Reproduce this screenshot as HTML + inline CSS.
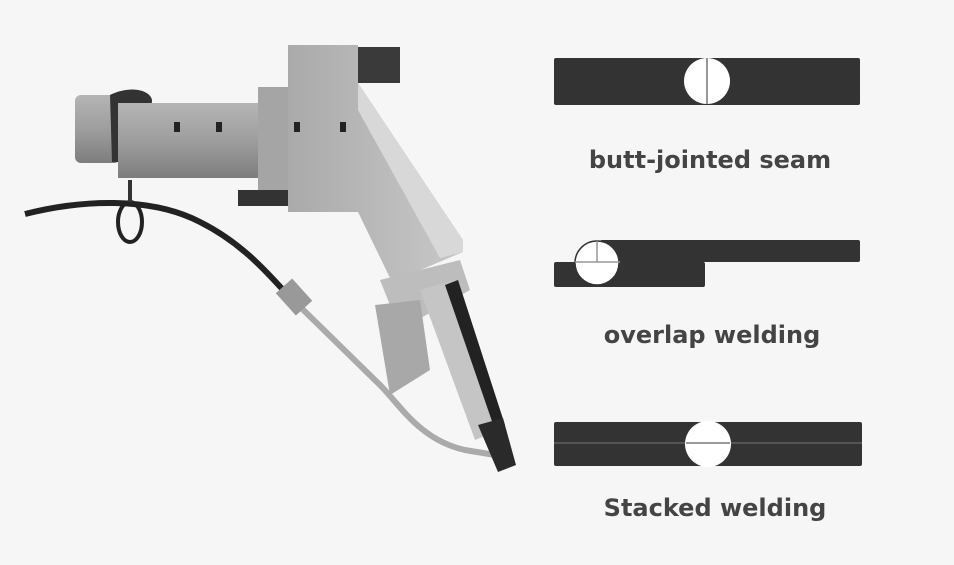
<!DOCTYPE html>
<html><head><meta charset="utf-8"><style>
html,body{margin:0;padding:0;background:#f6f6f6;}
body{width:954px;height:565px;position:relative;overflow:hidden;font-family:"DejaVu Sans","Liberation Sans",sans-serif;}
.t{position:absolute;color:#444;font-size:24px;text-align:center;width:360px;font-weight:bold;letter-spacing:0px;}
</style></head><body>
<svg width="954" height="565" style="position:absolute;left:0;top:0">
<defs>
<linearGradient id="g1" x1="0" y1="0" x2="0" y2="1"><stop offset="0" stop-color="#b5b5b5"/><stop offset="0.5" stop-color="#9e9e9e"/><stop offset="1" stop-color="#7d7d7d"/></linearGradient>
<linearGradient id="g2" x1="0" y1="0" x2="1" y2="0"><stop offset="0" stop-color="#aaa"/><stop offset="1" stop-color="#c8c8c8"/></linearGradient>
</defs>
<path d="M25,214 C80,200 150,196 200,222 C240,242 265,270 285,292" stroke="#222" stroke-width="6" fill="none"/>
<ellipse cx="130" cy="222" rx="12" ry="20" stroke="#222" stroke-width="4" fill="none"/>
<line x1="130" y1="180" x2="130" y2="202" stroke="#333" stroke-width="4"/>
<path d="M285,292 L380,385 C400,405 420,440 465,450 L495,455" stroke="#aaa" stroke-width="6" fill="none"/>
<rect x="283" y="282" width="22" height="30" fill="#999" transform="rotate(-42 294 297)"/>
<rect x="75" y="95" width="45" height="68" rx="6" fill="url(#g1)"/>
<path d="M110,95 C130,85 150,90 152,100 L150,162 L112,162 Z" fill="#333"/>
<rect x="118" y="103" width="142" height="75" fill="url(#g1)"/>
<rect x="174" y="122" width="6" height="10" fill="#222"/><rect x="216" y="122" width="6" height="10" fill="#222"/>
<rect x="258" y="87" width="32" height="110" fill="#a5a5a5"/>
<rect x="238" y="190" width="100" height="16" fill="#333"/>
<polygon points="288,45 358,45 358,83 463,240 463,252 392,282 358,212 288,212" fill="url(#g2)"/>
<polygon points="358,83 463,240 463,252 440,258 358,110" fill="#d8d8d8"/>
<rect x="358" y="47" width="42" height="36" fill="#3a3a3a"/>
<rect x="294" y="122" width="6" height="10" fill="#222"/><rect x="340" y="122" width="6" height="10" fill="#222"/>
<polygon points="380,280 460,260 470,290 400,330" fill="#bdbdbd"/>
<polygon points="375,305 420,300 430,370 390,395" fill="#a8a8a8"/>
<polygon points="420,290 455,280 500,430 475,440" fill="#c5c5c5"/>
<polygon points="445,285 458,280 505,425 495,430" fill="#222"/>
<polygon points="478,425 503,418 516,465 498,472" fill="#2a2a2a"/>
</svg>
<svg width="954" height="565" style="position:absolute;left:0;top:0">
<rect x="554" y="58" width="306" height="47" rx="2" fill="#333"/>
<circle cx="707" cy="81" r="23" fill="#fff"/>
<line x1="707" y1="58" x2="707" y2="104" stroke="#999" stroke-width="2"/>
<rect x="600" y="240" width="260" height="22" rx="2" fill="#333"/>
<rect x="554" y="262" width="151" height="25" rx="2" fill="#333"/>
<circle cx="597" cy="263" r="22" fill="#fff" stroke="#333" stroke-width="1.5"/>
<line x1="575" y1="262" x2="620" y2="262" stroke="#999" stroke-width="1.5"/>
<line x1="597" y1="241" x2="597" y2="262" stroke="#999" stroke-width="1.5"/>
<rect x="554" y="422" width="308" height="44" rx="2" fill="#333"/>
<line x1="554" y1="443" x2="862" y2="443" stroke="#555" stroke-width="2"/>
<circle cx="708" cy="444" r="23" fill="#fff"/>
<line x1="686" y1="443" x2="730" y2="443" stroke="#999" stroke-width="2"/>
</svg>
<div class="t" style="left:530px;top:146px;">butt-jointed seam</div>
<div class="t" style="left:532px;top:321px;">overlap welding</div>
<div class="t" style="left:535px;top:494px;">Stacked welding</div>
</body></html>
